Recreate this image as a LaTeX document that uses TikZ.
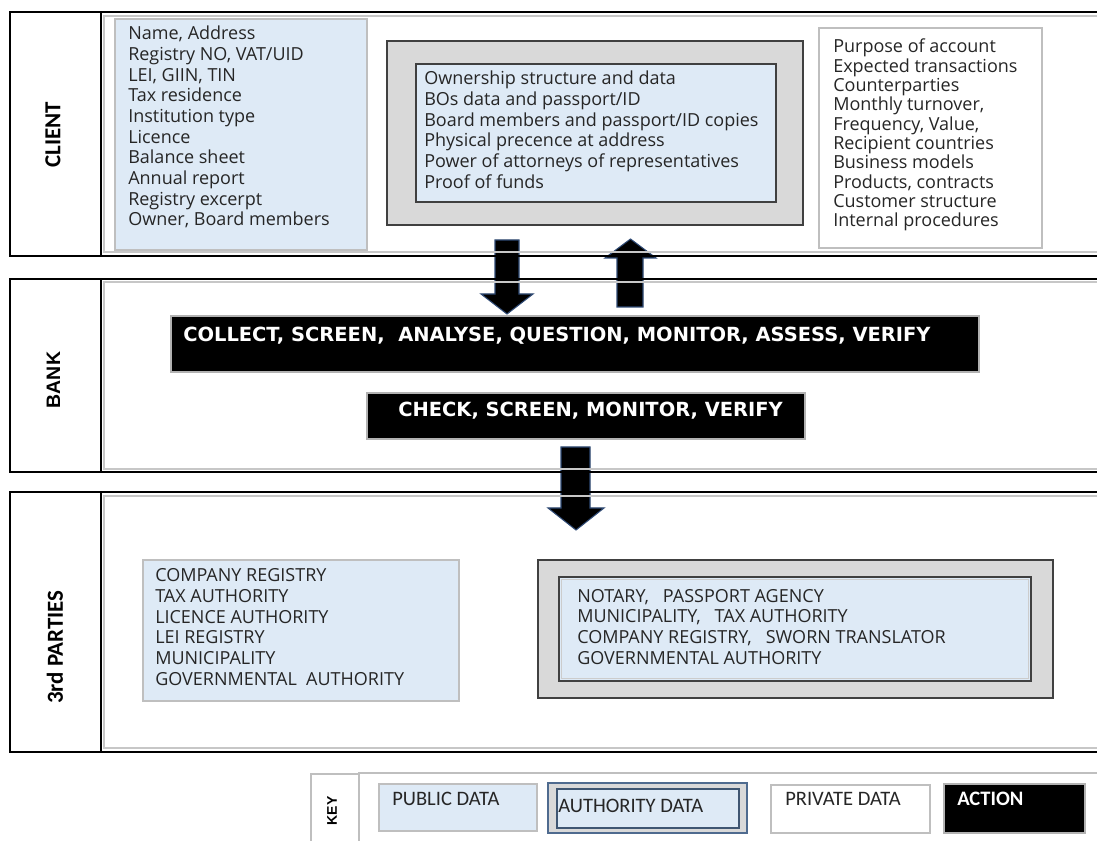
\documentclass[tikz,border=0pt]{standalone}
\usepackage{fontspec}
\setmainfont{Open Sans}
\newfontfamily\calib{Carlito}
\newfontfamily\arialf{Liberation Sans}
\newfontfamily\dvs{DejaVu Sans}
\definecolor{pub}{HTML}{DEEAF6}
\definecolor{auth}{HTML}{D9D9D9}
\definecolor{pubedge}{HTML}{BFBFBF}
\definecolor{arredge}{HTML}{2F4A75}
\definecolor{keyedge}{HTML}{4F6B8F}
\definecolor{txt}{HTML}{262626}
\begin{document}
\begin{tikzpicture}[x=0.75pt,y=-0.75pt,
  band/.style={draw=black,line width=2.2pt},
  innerline/.style={draw=black!22,line width=0.8pt},
  pubbox/.style={fill=pub,draw=pubedge,line width=1pt},
  privbox/.style={fill=white,draw=pubedge,line width=1pt},
  authout/.style={fill=auth,draw=black!75,line width=1pt},
  authin/.style={fill=pub,draw=black!75,line width=1.4pt},
  actbox/.style={fill=black,draw=black!30,line width=0.8pt},
  blockarrow/.style={fill=black,draw=arredge,line width=0.8pt,line join=miter},
  lst/.style={anchor=base west,align=left,inner sep=0pt,text=txt,font=\fontsize{13.5pt}{15.5pt}\selectfont},
  lsttight/.style={lst,font=\fontsize{13.5pt}{14.5pt}\selectfont},
  acttext/.style={anchor=base west,inner sep=0pt,text=white,font=\dvs\bfseries\fontsize{14.6pt}{17pt}\selectfont},
  sidelabel/.style={rotate=90,inner sep=0pt,text=black,font=\calib\bfseries\fontsize{17.2pt}{20pt}\selectfont},
  keytext/.style={anchor=base west,inner sep=0pt,text=txt,font=\calib\fontsize{15.4pt}{18pt}\selectfont},
  keyframe/.style={draw=black!25,line width=0.8pt}
]
\useasboundingbox (0,0) rectangle (1097,841);
\fill[white] (0,0) rectangle (1097,841);
\begin{scope}
\clip (0,0) rectangle (1097,841);

% block arrows (drawn first, band borders over them)
\draw[blockarrow] (495,240)--(519,240)--(519,294)--(533,294)--(507,314)--(481,294)--(495,294)--cycle;
\draw[blockarrow] (617,307)--(643,307)--(643,258)--(656,258)--(630.5,239)--(605,258)--(617,258)--cycle;
\draw[blockarrow] (561,447)--(590,447)--(590,508)--(604,508)--(576,530)--(548,508)--(561,508)--cycle;

% ---------- CLIENT band ----------
\draw[innerline] (104,16) rectangle (1110,252);
\draw[band] (10,12) rectangle (1110,256);
\draw[band] (101,12) -- (101,256);
\node[sidelabel] (lclient) at (53,135) {CLIENT};

\draw[pubbox] (115,19) rectangle (367,250);
% base anchor = last line baseline
\node[lst] (cpubt) at (128,226) {Name, Address\\Registry NO, VAT/UID\\LEI, GIIN, TIN\\Tax residence\\Institution type\\Licence\\Balance sheet\\Annual report\\Registry excerpt\\Owner, Board members};

\draw[authout] (387,41) rectangle (803,225);
\draw[authin] (416,64) rectangle (776,202);
\node[lst] (cautht) at (424,188.3) {Ownership structure and data\\BOs data and passport/ID\\Board members and passport/ID copies\\Physical precence at address\\Power of attorneys of representatives\\Proof of funds};

\draw[privbox] (819,28) rectangle (1042,248);
\node[lsttight] (cprivt) at (833,227) {Purpose of account\\Expected transactions\\Counterparties\\Monthly turnover,\\Frequency, Value,\\Recipient countries\\Business models\\Products, contracts\\Customer structure\\Internal procedures};

% ---------- BANK band ----------
\draw[innerline] (104,282) rectangle (1110,469);
\draw[band] (10,279) rectangle (1110,472);
\draw[band] (101,279) -- (101,472);
\node[sidelabel,font=\arialf\bfseries\fontsize{14.6pt}{17pt}\selectfont] (lbank) at (53.5,380) {BANK};

\draw[actbox] (171,316) rectangle (979,372);
\node[acttext] (act1) at (183,342) {COLLECT, SCREEN,\ \ ANALYSE, QUESTION, MONITOR, ASSESS, VERIFY};
\draw[actbox] (367,393) rectangle (805,439);
\node[acttext] (act2) at (398,417) {CHECK, SCREEN, MONITOR, VERIFY};

% ---------- 3rd PARTIES band ----------
\draw[innerline] (104,496) rectangle (1110,748);
\draw[band] (10,492) rectangle (1110,752);
\draw[band] (101,492) -- (101,752);
\node[sidelabel] (lthird) at (55,647) {3rd PARTIES};

\draw[pubbox] (143,560) rectangle (459,701);
\node[lst] (tpubt) at (155,685.3) {COMPANY REGISTRY\\TAX AUTHORITY\\LICENCE AUTHORITY\\LEI REGISTRY\\MUNICIPALITY\\GOVERNMENTAL\ \ AUTHORITY};

\draw[authout] (538,560) rectangle (1053,698);
\draw[authin] (559,577) rectangle (1031,681);
\draw[draw=black!20,line width=0.6pt] (561.5,579.5) rectangle (1028.5,678.5);
\node[lst] (tautht) at (577,664) {NOTARY,\ \ \ PASSPORT AGENCY\\MUNICIPALITY,\ \ \ TAX AUTHORITY\\COMPANY REGISTRY,\ \ \ SWORN TRANSLATOR\\GOVERNMENTAL AUTHORITY};

% ---------- KEY ----------
\draw[keyframe] (311,845) -- (311,774) -- (359,774);
\draw[keyframe] (359,845) -- (359,773) -- (1110,773);
\node[rotate=90,inner sep=0pt,font=\arialf\bfseries\fontsize{10.5pt}{12pt}\selectfont] (lkey) at (332,811) {KEY};

\draw[pubbox] (379,784) rectangle (537,831);
\node[keytext] (kpub) at (392,805) {PUBLIC DATA};
\draw[fill=auth,draw=keyedge,line width=1.2pt] (548,783) rectangle (747,833);
\draw[fill=pub,draw=keyedge!80!black,line width=1.2pt] (557,789) rectangle (739,828);
\node[keytext] (kauth) at (558,812) {AUTHORITY DATA};
\draw[privbox] (771,785) rectangle (930,833);
\node[keytext] (kpriv) at (785,805) {PRIVATE DATA};
\draw[actbox] (944,784) rectangle (1085,833);
\node[keytext,text=white,font=\calib\bfseries\fontsize{15.4pt}{18pt}\selectfont] (kact) at (957,805) {ACTION};
\end{scope}
\end{tikzpicture}
\end{document}
